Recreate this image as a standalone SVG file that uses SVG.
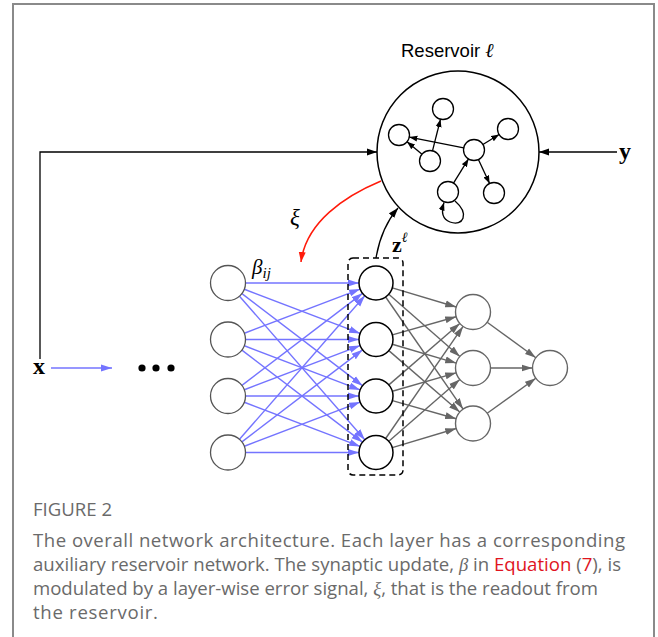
<svg xmlns="http://www.w3.org/2000/svg" width="658" height="637" viewBox="0 0 658 637">
<style>
.frame{fill:none;stroke:#8a8a8a;stroke-width:2}
.big{fill:none;stroke:#000;stroke-width:1.5}
.rn{fill:#fff;stroke:#000;stroke-width:1.3}
.inp{fill:#fff;stroke:#555;stroke-width:1.3}
.hid{fill:#fff;stroke:#000;stroke-width:1.5}
.hid2{fill:#fff;stroke:#666;stroke-width:1.4}
.blk{fill:none;stroke:#000;stroke-width:1.3}
.blue{fill:none;stroke:#7474ff;stroke-width:1.4}
.gray{fill:none;stroke:#666;stroke-width:1.4}
.red{fill:none;stroke:#ff1a0a;stroke-width:1.5}
.math{font-family:"Liberation Serif","DejaVu Serif",serif}
.cap{font-family:"Open Sans","Lato",sans-serif;fill:#6a6a6a;font-size:18.6px}
</style>
<defs>
<marker id="ab" markerUnits="userSpaceOnUse" markerWidth="10" markerHeight="8" refX="10" refY="4" orient="auto"><path d="M0,0.5 L10,4 L0,7.5 z" fill="#000"/></marker>
<marker id="abs" markerUnits="userSpaceOnUse" markerWidth="8" markerHeight="7" refX="8" refY="3.5" orient="auto"><path d="M0,0.5 L8,3.5 L0,6.5 z" fill="#000"/></marker>
<marker id="au" markerUnits="userSpaceOnUse" markerWidth="11" markerHeight="8" refX="11" refY="4" orient="auto"><path d="M0,0.5 L11,4 L0,7.5 z" fill="#7474ff"/></marker>
<marker id="ag" markerUnits="userSpaceOnUse" markerWidth="11" markerHeight="8" refX="11" refY="4" orient="auto"><path d="M0,0.5 L11,4 L0,7.5 z" fill="#666"/></marker>
<marker id="ar" markerUnits="userSpaceOnUse" markerWidth="10" markerHeight="8" refX="10" refY="4" orient="auto"><path d="M0,0.5 L10,4 L0,7.5 z" fill="#ff1a0a"/></marker>
</defs>
<path class="frame" d="M13 637 V4 H654 V637"/>

<g id="reservoir">
<text x="401" y="57" font-family="Liberation Sans, Arial, sans-serif" font-size="18.5" fill="#000">Reservoir <tspan font-family="DejaVu Serif, serif" font-style="italic" font-size="20">ℓ</tspan></text>
<circle class="big" cx="458" cy="152" r="81"/>
</g>

<g id="connectors">
<path class="blk" d="M40 359 V152 H377" marker-end="url(#ab)"/>
<path class="blk" d="M617 152 H539" marker-end="url(#ab)"/>
<path d="M51 368 H112" fill="none" stroke="#7474ff" stroke-width="1.4" marker-end="url(#au)"/>
<path class="red" d="M381 181 C345 196 306 222 301 262" marker-end="url(#ar)"/>
<path class="blk" d="M376 258 Q381 228 398 208" marker-end="url(#ab)"/>
<g id="reservoir-edges">
<path class="blk" d="M463.7 147.9 L409.3 137.1" marker-end="url(#abs)"/>
<path class="blk" d="M432.5 150.8 L440.5 119.2" marker-end="url(#abs)"/>
<path class="blk" d="M422 154.2 L407 141.8" marker-end="url(#abs)"/>
<path class="blk" d="M482.9 144.5 L499.1 134.5" marker-end="url(#abs)"/>
<path class="blk" d="M478.4 159.5 L489.6 183.5" marker-end="url(#abs)"/>
<path class="blk" d="M453.5 183.1 L468.5 158.9" marker-end="url(#abs)"/>
<path class="blk" d="M455 201 C470 214 463 227 450 222 C442 219 441 212 444 202.5" marker-end="url(#abs)"/>
</g>
<g id="beta-edges">
<path class="blue" d="M245.5 283 L359 283" marker-end="url(#au)"/>
<path class="blue" d="M244.35 289.24 L360.12 333.44" marker-end="url(#au)"/>
<path class="blue" d="M241.91 293.62 L362.49 385.68" marker-end="url(#au)"/>
<path class="blue" d="M239.51 296.18 L364.82 439.69" marker-end="url(#au)"/>
<path class="blue" d="M244.35 333.26 L360.12 289.06" marker-end="url(#au)"/>
<path class="blue" d="M245.5 339.5 L359 339.5" marker-end="url(#au)"/>
<path class="blue" d="M244.35 345.74 L360.12 389.94" marker-end="url(#au)"/>
<path class="blue" d="M241.91 350.12 L362.49 442.18" marker-end="url(#au)"/>
<path class="blue" d="M241.91 385.38 L362.49 293.32" marker-end="url(#au)"/>
<path class="blue" d="M244.35 389.76 L360.12 345.56" marker-end="url(#au)"/>
<path class="blue" d="M245.5 396 L359 396" marker-end="url(#au)"/>
<path class="blue" d="M244.35 402.24 L360.12 446.44" marker-end="url(#au)"/>
<path class="blue" d="M239.51 439.32 L364.82 295.81" marker-end="url(#au)"/>
<path class="blue" d="M241.91 441.88 L362.49 349.82" marker-end="url(#au)"/>
<path class="blue" d="M244.35 446.26 L360.12 402.06" marker-end="url(#au)"/>
<path class="blue" d="M245.5 452.5 L359 452.5" marker-end="url(#au)"/>
</g>
<g id="hidden-edges">
<path class="gray" d="M392.29 287.87 L456.23 306.99" marker-end="url(#ag)"/>
<path class="gray" d="M388.79 294.2 L459.84 356.47" marker-end="url(#ag)"/>
<path class="gray" d="M385.66 296.99 L463.06 409.1" marker-end="url(#ag)"/>
<path class="gray" d="M392.36 334.86 L456.16 316.77" marker-end="url(#ag)"/>
<path class="gray" d="M392.31 344.29 L456.21 363.07" marker-end="url(#ag)"/>
<path class="gray" d="M388.85 350.63 L459.77 412.04" marker-end="url(#ag)"/>
<path class="gray" d="M388.85 384.87 L459.77 323.46" marker-end="url(#ag)"/>
<path class="gray" d="M392.33 391.28 L456.19 372.85" marker-end="url(#ag)"/>
<path class="gray" d="M392.36 400.64 L456.16 418.73" marker-end="url(#ag)"/>
<path class="gray" d="M385.66 438.51 L463.06 326.4" marker-end="url(#ag)"/>
<path class="gray" d="M388.82 441.33 L459.8 379.49" marker-end="url(#ag)"/>
<path class="gray" d="M392.29 447.63 L456.23 428.49" marker-end="url(#ag)"/>
<path class="gray" d="M487.15 322.29 L535.85 357.71" marker-end="url(#ag)"/>
<path class="gray" d="M490.5 368 L532.5 368" marker-end="url(#ag)"/>
<path class="gray" d="M487.2 413.27 L535.8 378.23" marker-end="url(#ag)"/>
</g>
</g>

<g id="reservoir-nodes">
<circle class="rn" cx="443" cy="109" r="10.5"/>
<circle class="rn" cx="399" cy="135" r="10.5"/>
<circle class="rn" cx="430" cy="161" r="10.5"/>
<circle class="rn" cx="474" cy="150" r="10.5"/>
<circle class="rn" cx="508" cy="129" r="10.5"/>
<circle class="rn" cx="494" cy="193" r="10.5"/>
<circle class="rn" cx="448" cy="192" r="10.5"/>
</g>

<g id="label-y"><text class="math" x="619" y="159" font-size="24" font-weight="bold">y</text></g>
<g id="label-x"><text class="math" x="33" y="374" font-size="24" font-weight="bold">x</text></g>
<g id="ellipsis">
<circle cx="142" cy="368" r="3.6" fill="#000"/>
<circle cx="156" cy="368" r="3.6" fill="#000"/>
<circle cx="171" cy="368" r="3.6" fill="#000"/>
</g>
<g id="label-xi"><text class="math" x="290" y="225" font-size="23" font-style="italic">ξ</text></g>
<g id="label-z"><text class="math" x="392" y="252" font-size="22" font-weight="bold">z<tspan font-family="DejaVu Serif, serif" font-style="italic" font-weight="normal" font-size="14" dy="-10">ℓ</tspan></text></g>
<g id="label-beta"><text class="math" x="252" y="274" font-size="21" font-style="italic">β<tspan font-size="15" dy="4">ij</tspan></text></g>

<g id="input-layer">
<circle class="inp" cx="228" cy="283" r="17.5"/>
<circle class="inp" cx="228" cy="339.5" r="17.5"/>
<circle class="inp" cx="228" cy="396" r="17.5"/>
<circle class="inp" cx="228" cy="452.5" r="17.5"/>
</g>
<g id="hidden-layer">
<rect x="348" y="258" width="55" height="217" rx="5" fill="none" stroke="#000" stroke-width="1.5" stroke-dasharray="6 4"/>
<circle class="hid" cx="376" cy="283" r="17"/>
<circle class="hid" cx="376" cy="339.5" r="17"/>
<circle class="hid" cx="376" cy="396" r="17"/>
<circle class="hid" cx="376" cy="452.5" r="17"/>
</g>
<g id="hidden-layer-2">
<circle class="hid2" cx="473" cy="312" r="17.5"/>
<circle class="hid2" cx="473" cy="368" r="17.5"/>
<circle class="hid2" cx="473" cy="423.5" r="17.5"/>
</g>
<g id="output-layer"><circle class="hid2" cx="550" cy="368" r="17.5"/></g>

<g id="caption">
<text class="cap" x="33" y="516" font-size="14">FIGURE 2</text>
<text class="cap" x="33" y="547" textLength="592">The overall network architecture. Each layer has a corresponding</text>
<text class="cap" x="33" y="571" textLength="588">auxiliary reservoir network. The synaptic update, <tspan font-family="Liberation Serif, serif" font-style="italic">β</tspan> in <tspan fill="#e0141e">Equation</tspan> (<tspan fill="#e0141e">7</tspan>), is</text>
<text class="cap" x="33" y="595" textLength="565">modulated by a layer-wise error signal, <tspan font-family="Liberation Serif, serif" font-style="italic">ξ</tspan>, that is the readout from</text>
<text class="cap" x="33" y="619" textLength="125">the reservoir.</text>
</g>
</svg>
